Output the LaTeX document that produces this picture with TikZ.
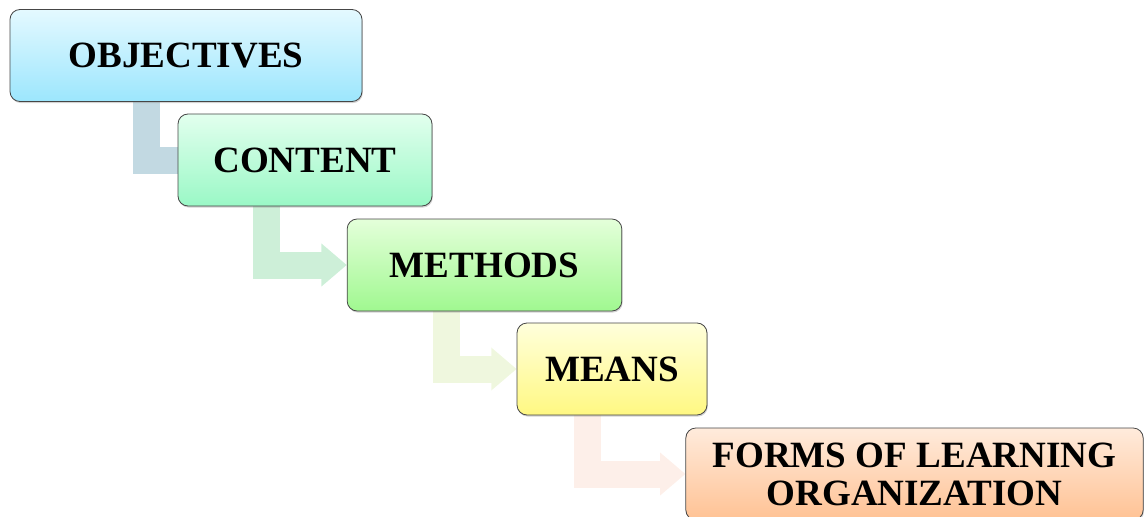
\documentclass[tikz,border=0pt]{standalone}
\usepackage{fontspec}
\setmainfont{Liberation Serif}
\usetikzlibrary{arrows.meta}
\usetikzlibrary{backgrounds}
\usetikzlibrary{shadows}

\definecolor{objtop}{HTML}{E4F9FF}
\definecolor{objbot}{HTML}{9CE6FD}
\definecolor{contop}{HTML}{E2FFEE}
\definecolor{conbot}{HTML}{9AF8C6}
\definecolor{mettop}{HTML}{E4FFDA}
\definecolor{metbot}{HTML}{A0F890}
\definecolor{meatop}{HTML}{FFFFDC}
\definecolor{meabot}{HTML}{FFF882}
\definecolor{fortop}{HTML}{FFEBDC}
\definecolor{forbot}{HTML}{FFC294}
\definecolor{linkA}{HTML}{C2D9E2}
\definecolor{linkB}{HTML}{CDEFD8}
\definecolor{linkC}{HTML}{EFF7DE}
\definecolor{linkD}{HTML}{FDEFE9}

\begin{document}
\begin{tikzpicture}[x=0.75pt,y=-0.75pt,
    stage/.style={draw=gray!55!black, line width=0.6pt, rounded corners=7.5pt,
        inner sep=0pt, minimum height=69pt, align=center,
        font=\bfseries\fontsize{27.8}{28.6}\selectfont,
        drop shadow={shadow xshift=0.6pt, shadow yshift=-1.2pt, opacity=0.35}},
    link/.style={line width=20.25pt, -{Triangle[length=19pt,width=31pt]}}]
    \useasboundingbox (0,0) rectangle (1146,517);

    % the five stages
    \node[stage, minimum width=264pt, top color=objtop, bottom color=objbot] (obj) at (186,55.5) {OBJECTIVES};
    \node[stage, minimum width=190.5pt, top color=contop, bottom color=conbot] (con) at (305,160) {CONTENT};
    \node[stage, minimum width=206pt, top color=mettop, bottom color=metbot] (met) at (484.5,265) {METHODS};
    \node[stage, minimum width=142.5pt, top color=meatop, bottom color=meabot] (mea) at (612,369) {MEANS};
    \node[stage, minimum width=343pt, top color=fortop, bottom color=forbot] (frm) at (914.5,474) {FORMS OF LEARNING\\ORGANIZATION};

    % elbow arrows behind the boxes
    \begin{scope}[on background layer]
        \draw[link, linkA] ([xshift=102.4pt]obj.south west) |- ([xshift=20pt]con.west);
        \draw[link, linkB] ([xshift=66.4pt]con.south west) |- (met.west);
        \draw[link, linkC] ([xshift=74.6pt]met.south west) |- (mea.west);
        \draw[link, linkD] ([xshift=52.9pt]mea.south west) |- (frm.west);
    \end{scope}
\end{tikzpicture}
\end{document}
